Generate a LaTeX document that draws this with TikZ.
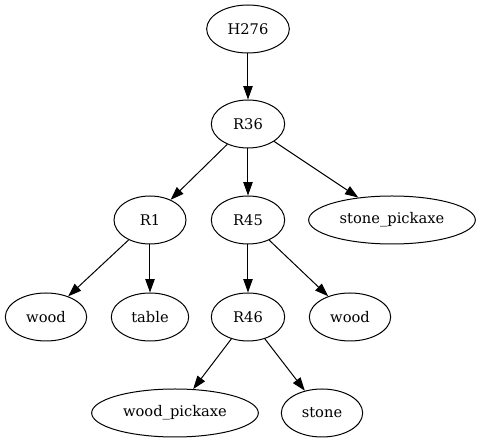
\documentclass[tikz,border=0pt]{standalone}
\usepackage{fontspec}
\setmainfont{DejaVu Serif}
\usepackage{tikz}
\usetikzlibrary{shapes.geometric,arrows.meta}

\begin{document}
\begin{tikzpicture}[x=1pt,y=1pt]
        \useasboundingbox (0,0) rectangle (360,332.25);
        \begin{scope}[
            every node/.style={shape=ellipse,draw=black,line width=0.75pt,inner sep=0pt,
                minimum height=36pt,font=\fontsize{11}{13}\selectfont}
        ]
            \node[minimum width=62pt] (H276) at (186, 310.5) {H276};
            \node[minimum width=55pt] (R36) at (186, 239.25) {R36};

            \node[minimum width=54pt] (R1) at (112.5, 167.25) {R1};
            \node[minimum width=55pt] (R45) at (186, 167.25) {R45};
            \node[minimum width=125pt] (SP) at (294, 167.25) {stone\_pickaxe};

            \node[minimum width=61pt] (W1) at (34.5, 94.5) {wood};
            \node[minimum width=58pt] (T1) at (112.5, 94.5) {table};
            \node[minimum width=55pt] (R46) at (186, 94.5) {R46};
            \node[minimum width=61pt] (W2) at (262.5, 94.5) {wood};

            \node[minimum width=125pt] (WP) at (131.25, 22.5) {wood\_pickaxe};
            \node[minimum width=61pt] (S1) at (241.5, 22.5) {stone};
        \end{scope}
        \begin{scope}[
            every edge/.style={draw=black,line width=0.75pt}
        ]
            \path [-{Triangle[length=10pt,width=7pt]}] (H276) edge (R36);

            \path [-{Triangle[length=10pt,width=7pt]}] (R36) edge (R1);
            \path [-{Triangle[length=10pt,width=7pt]}] (R36) edge (R45);
            \path [-{Triangle[length=10pt,width=7pt]}] (R36) edge (SP);

            \path [-{Triangle[length=10pt,width=7pt]}] (R1) edge (W1);
            \path [-{Triangle[length=10pt,width=7pt]}] (R1) edge (T1);

            \path [-{Triangle[length=10pt,width=7pt]}] (R45) edge (R46);
            \path [-{Triangle[length=10pt,width=7pt]}] (R45) edge (W2);

            \path [-{Triangle[length=10pt,width=7pt]}] (R46) edge (WP);
            \path [-{Triangle[length=10pt,width=7pt]}] (R46) edge (S1);
        \end{scope}
    \end{tikzpicture}
\end{document}
